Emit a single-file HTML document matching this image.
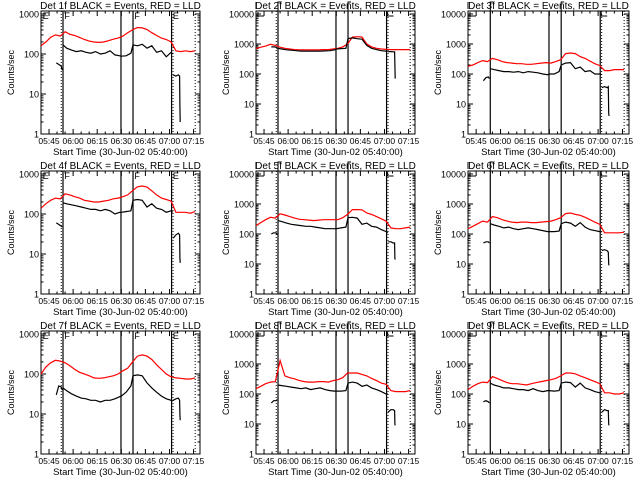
<!DOCTYPE html>
<html><head><meta charset="utf-8"><style>
html,body{margin:0;padding:0;background:#fff;}
svg{display:block;font-family:"Liberation Sans",sans-serif;}
</style></head><body>
<svg id="chart" width="640" height="480" viewBox="0 0 640 480" xmlns="http://www.w3.org/2000/svg">
<rect x="0" y="0" width="640" height="480" fill="#fff"/>
</svg>
<script>
// Time axis: minutes after 05:40:00
const redT = [0,3,6,9,12,15,18,21,24,27,30,33,36,39,42,45,48,51,54,57,60,63,66,69,72,75,78,81,84,87,90,93,96];
const blackTA = [9.5,11,12.5,13.2];
const blackTB = [13.7,16,19,22,25,28,31,34,37,40,43,46,49,50,53,56,57.3,60,63,66,69,72,75,78,81,82];
const blackTC = [82.3,84,85.5,86.3,86.5,86.7];
const xTickLabels = ["05:45","06:00","06:15","06:30","06:45","07:00","07:15"];
const xTickTimes = [5,20,35,50,65,80,95];
const detNames = ["1f","2f","3f","4f","5f","6f","7f","8f","9f"];
const yTop = [3.075,4.1,4.1,3.075,4.1,4.1,3.075,4.1,4.1];

const red1 = [160,200,260,300,280,360,310,290,260,230,210,200,195,200,215,235,250,280,340,400,460,450,410,340,290,250,230,200,120,115,120,115,120];
const red2 = [700,780,850,980,900,780,720,680,650,640,640,640,640,640,650,650,680,720,800,1000,1700,1750,1700,1000,800,720,680,660,650,650,650,650,650];
const red3 = [180,200,240,280,260,330,300,260,240,230,220,220,210,210,220,230,240,230,260,300,480,500,480,380,330,270,220,190,130,130,140,140,140];
const red4 = [140,180,220,250,240,320,300,270,250,220,210,200,200,210,220,240,250,270,300,380,480,500,470,380,300,250,230,210,110,110,110,105,115];
const red5 = [190,240,300,360,340,470,430,380,340,310,300,290,280,290,300,300,300,300,350,450,650,650,640,500,450,380,320,270,160,150,150,160,170];
const red6 = [150,180,220,270,250,380,350,300,270,250,240,250,250,240,240,250,260,270,300,350,480,500,450,420,360,300,250,210,110,110,110,110,115];
const red7 = [100,150,190,220,210,190,160,130,110,100,90,80,78,80,85,90,100,120,140,200,280,300,280,230,170,130,100,85,80,78,75,75,80];
const red8 = [150,180,220,250,260,1300,400,350,320,280,260,250,250,260,260,250,280,300,350,500,500,500,450,400,330,280,230,210,130,120,120,120,130];
const red9 = [140,180,220,250,240,380,330,280,240,220,220,210,200,220,240,260,280,300,330,400,500,500,470,400,350,300,260,220,110,110,100,100,110];

const blackA1 = [60,55,50,40];
const blackA2 = [800,800,780,700];
const blackA3 = [60,75,80,70];
const blackA4 = [60,55,50,48];
const blackA5 = [100,110,110,95];
const blackA6 = [50,55,55,50];
const blackA7 = [30,50,48,40];
const blackA8 = [50,60,60,65];
const blackA9 = [55,60,55,50];

const blackB1 = [170,140,125,115,120,110,105,115,100,105,120,95,90,88,90,105,170,160,175,140,160,110,120,85,110,100];
const blackB2 = [720,680,640,620,600,580,580,580,580,580,590,600,640,680,700,720,1500,1600,1500,1450,900,720,650,600,580,560];
const blackB3 = [150,140,130,120,120,115,120,110,120,115,110,100,95,100,100,120,200,230,240,150,170,120,130,100,100,95];
const blackB4 = [190,180,170,160,150,140,130,130,120,130,120,100,110,110,115,120,220,230,220,150,180,140,130,110,120,110];
const blackB5 = [280,260,230,210,200,190,180,180,170,160,150,150,150,150,160,170,350,360,340,210,230,180,170,140,120,110];
const blackB6 = [220,200,180,160,170,150,140,150,160,150,140,130,120,120,120,125,220,250,230,180,240,170,140,130,120,115];
const blackB7 = [45,38,32,28,25,24,22,22,20,22,22,24,27,28,35,50,90,95,90,60,45,35,28,24,22,21];
const blackB8 = [200,190,180,170,160,150,160,140,150,160,140,130,125,125,125,130,230,250,230,180,200,160,140,120,100,100];
const blackB9 = [230,200,180,160,160,150,140,140,130,150,130,120,130,130,125,130,230,250,240,170,230,160,140,120,110,110];

const blackC1 = [30,28,30,28,5,2];
const blackC2 = [560,560,550,550,200,70];
const blackC3 = [35,38,35,38,5,4];
const blackC4 = [25,30,33,30,8,6];
const blackC5 = [55,55,50,50,15,14];
const blackC6 = [28,30,28,25,10,9];
const blackC7 = [22,24,25,22,10,7];
const blackC8 = [25,30,30,28,10,9];
const blackC9 = [25,30,28,28,10,9];

const reds = [red1,red2,red3,red4,red5,red6,red7,red8,red9];
const blackAs = [blackA1,blackA2,blackA3,blackA4,blackA5,blackA6,blackA7,blackA8,blackA9];
const blackBs = [blackB1,blackB2,blackB3,blackB4,blackB5,blackB6,blackB7,blackB8,blackB9];
const blackCs = [blackC1,blackC2,blackC3,blackC4,blackC5,blackC6,blackC7,blackC8,blackC9];
const solidLines = [13.7,49.8,57.3,81.3];

const svg = document.getElementById('chart');
const NS = 'http://www.w3.org/2000/svg';
const colL = [41,256,468], colR = [200,415,629];
const rowT = [11,171,331], rowB = [134,294,454];
const T0 = 0, T1 = 99;

function mk(tag, attrs, parent){
  const e = document.createElementNS(NS, tag);
  for (const k in attrs) e.setAttribute(k, attrs[k]);
  (parent||svg).appendChild(e);
  return e;
}

for (let p=0;p<9;p++){
  const c = p%3, r = Math.floor(p/3);
  const L = colL[c], R = colR[c], Tp = rowT[r], B = rowB[r];
  const top = yTop[p];
  const xs = t => L + (t-T0)/(T1-T0)*(R-L);
  const ys = v => B - Math.log10(Math.max(v,0.5))/top*(B-Tp);
  const g = mk('g', {});
  
  

  // title
  const title = mk('text', {x:(L+R)/2, y:Tp-2, 'font-size':'10', 'text-anchor':'middle', fill:'#000'}, g);
  title.textContent = 'Det ' + detNames[p] + ' BLACK = Events, RED = LLD';
  
  

  // frame
  const frame = mk('rect', {x:L, y:Tp, width:R-L, height:B-Tp, fill:'none', stroke:'#000', 'stroke-width':1}, g);
  
  

  // y ticks
  const maxDec = Math.floor(top);
  for (let d=0; d<=maxDec; d++){
    const y = ys(Math.pow(10,d));
    mk('line', {x1:L, x2:L+5, y1:y, y2:y, stroke:'#000'}, g);
    mk('line', {x1:R-5, x2:R, y1:y, y2:y, stroke:'#000'}, g);
    const lab = mk('text', {x:L-2, y:y+3.5, 'font-size':'9', 'text-anchor':'end', fill:'#000'}, g);
    lab.textContent = String(Math.pow(10,d));
    
    
    for (let m=2;m<=9;m++){
      const v = m*Math.pow(10,d);
      if (Math.log10(v) > top) break;
      const ym = ys(v);
      mk('line', {x1:L, x2:L+2.5, y1:ym, y2:ym, stroke:'#000'}, g);
      mk('line', {x1:R-2.5, x2:R, y1:ym, y2:ym, stroke:'#000'}, g);
    }
  }
  // y title
  const yt = mk('text', {x:0, y:0, 'font-size':'9', 'text-anchor':'middle', fill:'#000', transform:'translate(' + (L-27) + ',' + ((Tp+B)/2) + ') rotate(-90)'}, g);
  yt.textContent = 'Counts/sec';
  
  

  // x ticks
  for (let t=0;t<=T1;t+=5){
    const x = xs(t);
    const major = xTickTimes.indexOf(t) >= 0;
    const len = major ? 5 : 2.5;
    mk('line', {x1:x, x2:x, y1:B, y2:B-len, stroke:'#000'}, g);
    mk('line', {x1:x, x2:x, y1:Tp, y2:Tp+len, stroke:'#000'}, g);
  }
  for (let i=0;i<xTickLabels.length;i++){
    const lab = mk('text', {x:xs(xTickTimes[i]), y:B+10, 'font-size':'8.5', 'text-anchor':'middle', fill:'#000'}, g);
    lab.textContent = xTickLabels[i];
    
    
  }
  const xt = mk('text', {x:(L+R)/2, y:B+21, 'font-size':'9.5', 'text-anchor':'middle', fill:'#000'}, g);
  xt.textContent = 'Start Time (30-Jun-02 05:40:00)';
  
  

  // vertical markers
  const dots = c===2 ? [82.2,96] : [12.6,82.2,96];
  dots.forEach(t=>{
    const l = mk('line', {x1:xs(t), x2:xs(t), y1:Tp, y2:B, stroke:'#000', 'stroke-dasharray':'1,2'}, g);
    
    
  });
  solidLines.forEach(t=>{
    const l = mk('line', {x1:xs(t), x2:xs(t), y1:Tp, y2:B, stroke:'#000', 'stroke-width':1.2}, g);
    
    
  });
  if (c===0){
    const letters = [['E',0.5],['F',13.9],['F',57.5],['E',81.5]];
    letters.forEach(a=>{
      const tx = mk('text', {x:xs(a[1])+1, y:Tp+8, 'font-size':'9', fill:'#000'}, g);
      tx.textContent = a[0];
      
      
    });
  } else {
    [[0.6,false],[81.3,false]].forEach(a=>{
      const x = xs(a[0])+1;
      mk('path', {d:'M'+x+','+(Tp+1)+' V'+(Tp+5)+' H'+(x+6), fill:'none', stroke:'#000'}, g);
    });
    [13.7,57.3].forEach(t=>{
      const x = xs(t);
      mk('path', {d:'M'+x+','+Tp+' V'+(Tp-9)+' H'+(x+3), fill:'none', stroke:'#000'}, g);
    });
    mk('path', {d:'M'+(L+0)+','+(Tp-2)+' V'+(Tp-9), fill:'none', stroke:'#000'}, g);
  }

  // series
  const line = (T, V, color, name) => {
    let d = '';
    for (let i=0;i<T.length;i++) d += (i?'L':'M') + xs(T[i]).toFixed(1) + ',' + ys(V[i]).toFixed(1);
    const e = mk('path', {d:d, fill:'none', stroke:color, 'stroke-width':1.2}, g);
    
    
  };
  line(redT, reds[p], '#ff0000', 'lld-series');
  line(blackTA, blackAs[p], '#000', 'events-series-pre');
  line(blackTB, blackBs[p], '#000', 'events-series');
  line(blackTC, blackCs[p], '#000', 'events-series-post');
}
</script>
</body></html>
